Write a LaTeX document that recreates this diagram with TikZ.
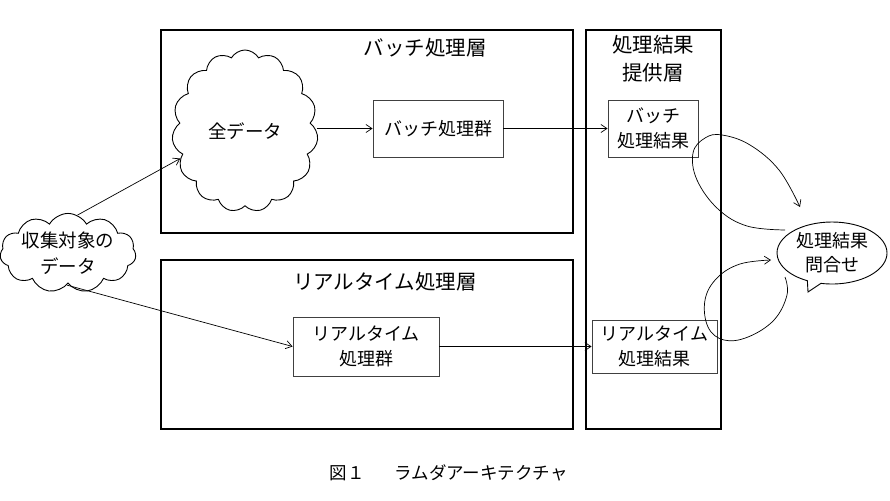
\documentclass[tikz,border=0pt]{standalone}
\usepackage{fontspec}
\setmainfont{Noto Sans CJK JP}
\usetikzlibrary{shapes.symbols,shapes.callouts,arrows.meta}
\begin{document}
\begin{tikzpicture}[x=1pt,y=-1pt,
  layer/.style={draw=black,line width=2pt,anchor=north west,inner sep=0pt},
  procbox/.style={draw=black!75,line width=0.9pt,align=center,inner sep=0pt,font=\fontsize{18}{25}\selectfont},
  ttl/.style={align=center,font=\fontsize{20.5}{28}\selectfont},
  arr/.style={-{Straight Barb[length=6pt,width=8pt]},line width=0.7pt},
  cl/.style={cloud,draw,line width=0.9pt,cloud ignores aspect,align=center}]
\useasboundingbox (0,0) rectangle (890,500);
% layers
\node[layer,minimum width=412pt,minimum height=203pt] (batchL) at (160,29) {};
\node[layer,minimum width=412pt,minimum height=169pt] (rtL) at (160,259) {};
\node[layer,minimum width=135pt,minimum height=399pt] (provL) at (585,29) {};
\node[ttl] (batchT) at (425,48) {バッチ処理層};
\node[ttl] (rtT) at (385,282) {リアルタイム処理層};
\node[ttl] (provT) at (653,59) {処理結果\\提供層};
% clouds
\node[cl,cloud puffs=15,cloud puff arc=120,minimum width=146pt,minimum height=162pt,font=\fontsize{18.5}{26}\selectfont] (full) at (245,131) {全データ};
\node[cl,cloud puffs=11,cloud puff arc=120,minimum width=136pt,minimum height=62pt,font=\fontsize{18.5}{26}\selectfont,inner sep=0pt] (src) at (68,253) {収集対象の\\データ};
% boxes
\node[procbox,minimum width=130pt,minimum height=57pt] (batchG) at (438,128.5) {バッチ処理群};
\node[procbox,minimum width=90pt,minimum height=57pt] (batchR) at (653,128.5) {バッチ\\処理結果};
\node[procbox,minimum width=146pt,minimum height=59pt] (rtG) at (366,346.5) {リアルタイム\\処理群};
\node[procbox,minimum width=125pt,minimum height=53pt] (rtR) at (654.5,346.5) {リアルタイム\\処理結果};
% callout
\node[ellipse callout,draw,line width=0.9pt,minimum width=110pt,minimum height=62pt,align=center,inner sep=0pt,
  font=\fontsize{18}{24}\selectfont,callout absolute pointer={(808,292)}] (q) at (832,253) {処理結果\\問合せ};
% arrows
\draw[arr] (full.east |- batchG.west) -- (batchG.west);
\draw[arr] (batchG.east) -- (batchR.west);
\draw[arr] (rtG.east) -- (rtR.west);
\draw[arr] (src.76) -- (full.203);
\draw[arr] (src.268) -- (rtG.west);
% loops
\coordinate (l1s) at (785,230);
\coordinate (l1e) at (800,207);
\coordinate (l2s) at (785,277);
\coordinate (l2e) at (771,260);
\draw[arr] plot[smooth,tension=0.65] coordinates {(l1s) (747,226) (718,209) (697,180) (693,153) (705,138) (722,135) (750,145) (779,170) (l1e)};
\draw[arr] plot[smooth,tension=0.65] coordinates {(l2s) (787,295) (774,320) (748,337) (724,340) (708,327) (705,300) (717,278) (740,264) (l2e)};
% caption
\node[font=\fontsize{17.5}{20}\selectfont,anchor=west] (cap) at (326,473) {図１\hspace{30pt}ラムダアーキテクチャ};
\end{tikzpicture}
\end{document}
